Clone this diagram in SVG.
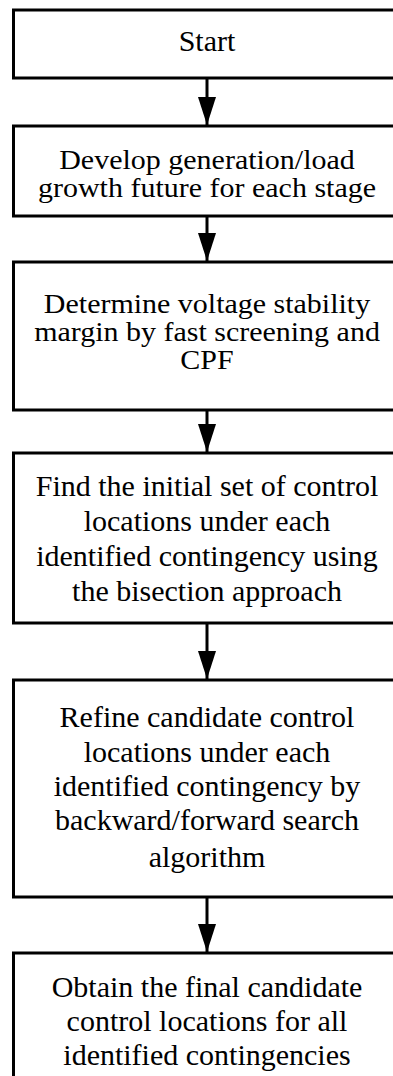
<svg xmlns="http://www.w3.org/2000/svg" width="393" height="1076" viewBox="0 0 393 1076">
<defs>
<style>
.box{fill:#fff;stroke:#000;stroke-width:3}
.t{font-family:'Liberation Serif','Times New Roman',serif;font-size:30px;fill:#000;text-anchor:middle}
.c{stroke:#000;stroke-width:3;fill:none}
</style>
<marker id="ah" markerUnits="userSpaceOnUse" markerWidth="28" markerHeight="18" refX="28" refY="9" orient="auto" viewBox="0 0 28 18">
<path d="M0,0 L28,9 L0,18 Z" fill="#000"/>
</marker>
</defs>
<rect width="393" height="1076" fill="#fff"/>
<g id="n1"><rect class="box" x="13.5" y="10" width="388" height="68"/>
<text class="t" x="207" y="51">Start</text></g>
<g id="n2"><rect class="box" x="13.5" y="126" width="388" height="90"/>
<text class="t" transform="translate(207 169) scale(1 0.88)">Develop generation/load</text>
<text class="t" transform="translate(207 197) scale(1 0.88)">growth future for each stage</text></g>
<g id="n3"><rect class="box" x="13.5" y="262" width="388" height="148"/>
<text class="t" transform="translate(207 313) scale(1 0.9)">Determine voltage stability</text>
<text class="t" transform="translate(207 341) scale(1 0.9)">margin by fast screening and</text>
<text class="t" transform="translate(207 369) scale(1 0.9)">CPF</text></g>
<g id="n4"><rect class="box" x="13.5" y="453" width="388" height="170"/>
<text class="t" x="207" y="496">Find the initial set of control</text>
<text class="t" x="207" y="531">locations under each</text>
<text class="t" x="207" y="566">identified contingency using</text>
<text class="t" x="207" y="601">the bisection approach</text></g>
<g id="n5"><rect class="box" x="13.5" y="680" width="388" height="217"/>
<text class="t" x="207" y="727">Refine candidate control</text>
<text class="t" x="207" y="762">locations under each</text>
<text class="t" x="207" y="796">identified contingency by</text>
<text class="t" x="207" y="830">backward/forward search</text>
<text class="t" x="207" y="867">algorithm</text></g>
<g id="n6"><rect class="box" x="13.5" y="953" width="388" height="140"/>
<text class="t" x="207" y="997">Obtain the final candidate</text>
<text class="t" x="207" y="1031">control locations for all</text>
<text class="t" x="207" y="1065">identified contingencies</text></g>
<g id="connectors">
<line class="c" x1="207" y1="78" x2="207" y2="125" marker-end="url(#ah)"/>
<line class="c" x1="207" y1="216" x2="207" y2="261" marker-end="url(#ah)"/>
<line class="c" x1="207" y1="410" x2="207" y2="452" marker-end="url(#ah)"/>
<line class="c" x1="207" y1="623" x2="207" y2="679" marker-end="url(#ah)"/>
<line class="c" x1="207" y1="897" x2="207" y2="952" marker-end="url(#ah)"/>
</g>
</svg>
